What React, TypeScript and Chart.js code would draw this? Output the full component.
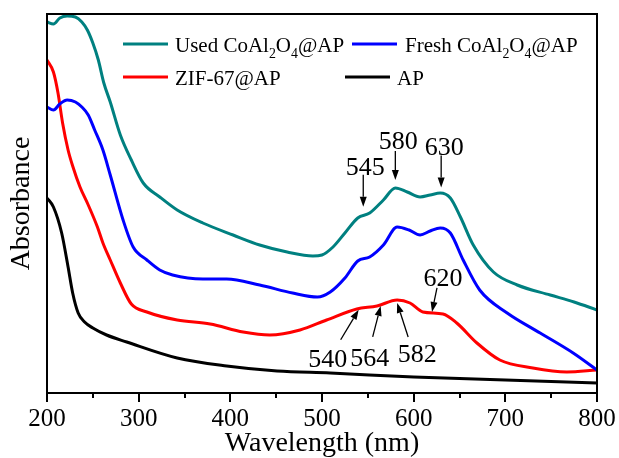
import React, { useEffect, useRef } from 'react';
import { Chart, registerables } from 'chart.js';

Chart.register(...registerables);

// ---------- data ----------
const usedWl = [200, 207, 214, 222, 231, 238, 244, 250, 256, 262, 269, 280, 292, 305, 323, 342, 370, 403, 432, 462, 490, 500, 512, 525, 539, 552, 567, 580, 593, 607, 618, 629, 640, 651, 665, 687, 713, 749, 775, 800];
const usedAbs = [3.71, 3.69, 3.75, 3.77, 3.76, 3.71, 3.63, 3.5, 3.33, 3.1, 2.91, 2.58, 2.33, 2.1, 1.96, 1.83, 1.7, 1.58, 1.48, 1.41, 1.37, 1.38, 1.46, 1.6, 1.75, 1.8, 1.93, 2.05, 2.01, 1.96, 1.98, 2.0, 1.95, 1.76, 1.48, 1.21, 1.08, 0.98, 0.91, 0.83];

const freshWl = [200, 207, 214, 222, 231, 238, 245, 252, 261, 269, 283, 294, 309, 323, 337, 370, 396, 432, 468, 495, 509, 525, 539, 552, 567, 582, 595, 607, 618, 629, 640, 654, 672, 702, 738, 774, 800];
const freshAbs = [2.86, 2.83, 2.89, 2.93, 2.91, 2.86, 2.78, 2.63, 2.43, 2.18, 1.73, 1.46, 1.33, 1.23, 1.18, 1.14, 1.14, 1.08, 1.0, 0.96, 1.01, 1.15, 1.32, 1.36, 1.48, 1.66, 1.63, 1.58, 1.62, 1.65, 1.6, 1.33, 1.03, 0.8, 0.6, 0.4, 0.23];

const zifWl = [200, 207, 212, 217, 223, 228, 236, 245, 255, 261, 269, 280, 292, 309, 342, 378, 414, 443, 476, 505, 538, 560, 582, 596, 610, 632, 647, 669, 694, 730, 767, 800];
const zifAbs = [3.33, 3.21, 3.0, 2.7, 2.43, 2.27, 2.06, 1.88, 1.66, 1.5, 1.33, 1.1, 0.89, 0.81, 0.73, 0.69, 0.61, 0.58, 0.63, 0.73, 0.84, 0.87, 0.93, 0.9, 0.81, 0.79, 0.7, 0.5, 0.33, 0.25, 0.21, 0.23];

const apWl = [200, 207, 216, 223, 228, 234, 241, 250, 265, 287, 342, 396, 451, 509, 600, 700, 800];
const apAbs = [1.95, 1.86, 1.6, 1.26, 1.0, 0.8, 0.71, 0.65, 0.58, 0.51, 0.35, 0.27, 0.22, 0.2, 0.16, 0.13, 0.1];

const seriesLabels = ['Used CoAl2O4@AP', 'Fresh CoAl2O4@AP', 'ZIF-67@AP', 'AP'];
const seriesColors = ['#008080', '#0000ff', '#ff0000', '#000000'];

const xMajorTicks = [200, 300, 400, 500, 600, 700, 800];
const xMinorTicks = [250, 350, 450, 550, 650, 750];

const xTitle = 'Wavelength (nm)';
const yTitle = 'Absorbance';

// peak annotations: wavelength, label, series index
const annoWl = [545, 580, 630, 540, 564, 582, 620];
const annoText = ['545', '580', '630', '540', '564', '582', '620'];
const annoSeries = [0, 0, 0, 2, 2, 2, 2];

// ---------- layout (drawing only) ----------
const ANNOT_LAYOUT = [
  { tipDy: -9, tail: [0, -32], lab: [2, 0] },
  { tipDy: -8, tail: [0, -29], lab: [3, -2] },
  { tipDy: -6, tail: [0, -32], lab: [3, 0] },
  { tipDy: 1, tail: [-18, 30], lab: [-13, 27] },
  { tipDy: 1, tail: [-8, 31], lab: [-3, 29] },
  { tipDy: 3, tail: [11, 34], lab: [9, 25] },
  { tipDy: -1, tail: [5, -24], lab: [6, -2] },
];
const LEGEND_POS = [
  [123, 44, 175],
  [352, 44, 405],
  [123, 77, 175],
  [345, 77, 397],
];

const FONT = '"Liberation Serif", "Times New Roman", serif';

const seriesWl = [usedWl, freshWl, zifWl, apWl];
const seriesAbs = [usedAbs, freshAbs, zifAbs, apAbs];

function valueAt(si: number, wl: number): number {
  const xs = seriesWl[si];
  const ys = seriesAbs[si];
  for (let i = 0; i < xs.length - 1; i++) {
    if (wl >= xs[i] && wl <= xs[i + 1]) {
      const t = (wl - xs[i]) / (xs[i + 1] - xs[i]);
      return ys[i] + t * (ys[i + 1] - ys[i]);
    }
  }
  return ys[ys.length - 1];
}

function drawRich(ctx: CanvasRenderingContext2D, text: string, x: number, y: number, size: number) {
  let cx = x;
  let prevLetterOrSub = false;
  const segs: { t: string; sub: boolean }[] = [];
  for (const ch of text) {
    const isDigit = /[0-9]/.test(ch);
    const sub = isDigit && prevLetterOrSub;
    if (segs.length && segs[segs.length - 1].sub === sub) segs[segs.length - 1].t += ch;
    else segs.push({ t: ch, sub });
    prevLetterOrSub = /[A-Za-z]/.test(ch) || sub;
  }
  ctx.textAlign = 'left';
  ctx.textBaseline = 'alphabetic';
  for (const s of segs) {
    const sz = s.sub ? size * 0.66 : size;
    ctx.font = `${sz}px ${FONT}`;
    ctx.fillText(s.t, cx, s.sub ? y + size * 0.3 : y);
    cx += ctx.measureText(s.t).width;
  }
}

function arrow(ctx: CanvasRenderingContext2D, x0: number, y0: number, x1: number, y1: number) {
  const ang = Math.atan2(y1 - y0, x1 - x0);
  const hl = 10;
  const hw = 3.5;
  const bx = x1 - hl * Math.cos(ang);
  const by = y1 - hl * Math.sin(ang);
  ctx.beginPath();
  ctx.moveTo(x0, y0);
  ctx.lineTo(bx, by);
  ctx.stroke();
  ctx.beginPath();
  ctx.moveTo(x1, y1);
  ctx.lineTo(bx + hw * Math.sin(ang), by - hw * Math.cos(ang));
  ctx.lineTo(bx - hw * Math.sin(ang), by + hw * Math.cos(ang));
  ctx.closePath();
  ctx.fill();
}

const decorPlugin = {
  id: 'decor',
  afterDraw(chart: any) {
    const { ctx, chartArea: ca, scales } = chart;
    const xs = scales.x;
    const ys = scales.y;
    ctx.save();
    ctx.strokeStyle = '#000';
    ctx.fillStyle = '#000';
    ctx.lineWidth = 2;
    ctx.strokeRect(ca.left, ca.top, ca.right - ca.left, ca.bottom - ca.top);
    for (const v of xMajorTicks) {
      const px = Math.round(xs.getPixelForValue(v));
      ctx.beginPath();
      ctx.moveTo(px, ca.bottom);
      ctx.lineTo(px, ca.bottom + 9);
      ctx.stroke();
    }
    for (const v of xMinorTicks) {
      const px = Math.round(xs.getPixelForValue(v));
      ctx.beginPath();
      ctx.moveTo(px, ca.bottom);
      ctx.lineTo(px, ca.bottom + 5);
      ctx.stroke();
    }
    for (let i = 0; i < seriesLabels.length; i++) {
      const [lx, ly, tx] = LEGEND_POS[i];
      ctx.strokeStyle = seriesColors[i];
      ctx.lineWidth = 3;
      ctx.beginPath();
      ctx.moveTo(lx, ly);
      ctx.lineTo(lx + 45, ly);
      ctx.stroke();
      ctx.fillStyle = '#000';
      drawRich(ctx, seriesLabels[i], tx, ly + 8, 21);
    }
    ctx.strokeStyle = '#000';
    ctx.fillStyle = '#000';
    ctx.lineWidth = 1.3;
    for (let i = 0; i < annoWl.length; i++) {
      const L = ANNOT_LAYOUT[i];
      const tipX = xs.getPixelForValue(annoWl[i]);
      const tipY = ys.getPixelForValue(valueAt(annoSeries[i], annoWl[i])) + L.tipDy;
      const tailX = tipX + L.tail[0];
      const tailY = tipY + L.tail[1];
      arrow(ctx, tailX, tailY, tipX, tipY);
      ctx.font = `26px ${FONT}`;
      ctx.textAlign = 'center';
      ctx.textBaseline = 'alphabetic';
      ctx.fillText(annoText[i], tailX + L.lab[0], tailY + L.lab[1]);
    }
    ctx.restore();
  },
};

export default function App() {
  const ref = useRef<HTMLCanvasElement | null>(null);
  useEffect(() => {
    document.body.style.margin = '0';
    const canvas = ref.current!;
    const datasets = seriesLabels.map((label, i) => ({
      label,
      data: seriesWl[i].map((w, j) => ({ x: w, y: seriesAbs[i][j] })),
      borderColor: seriesColors[i],
      backgroundColor: seriesColors[i],
      borderWidth: 3,
      pointRadius: 0,
      cubicInterpolationMode: 'monotone' as const,
      fill: false,
    }));
    const chart = new Chart(canvas, {
      type: 'line',
      data: { datasets },
      plugins: [decorPlugin],
      options: {
        animation: false,
        responsive: false,
        devicePixelRatio: 1,
        layout: { padding: { top: 14, right: 22, left: 0, bottom: 0 } },
        plugins: { legend: { display: false }, tooltip: { enabled: false } },
        scales: {
          x: {
            type: 'linear',
            min: 200,
            max: 800,
            afterBuildTicks: (s: any) => {
              s.ticks = xMajorTicks.map((v) => ({ value: v }));
            },
            ticks: {
              font: { family: FONT, size: 25 },
              color: '#000',
              padding: 11,
              maxRotation: 0,
              autoSkip: false,
            },
            grid: { display: false, drawTicks: false },
            border: { display: true, color: '#000', width: 2 },
            title: {
              display: true,
              text: xTitle,
              font: { family: FONT, size: 28 },
              color: '#000',
              padding: { top: 0, bottom: -2 },
            },
            afterFit: (s: any) => {
              s.height = 65;
              s.paddingLeft = 0;
              s.paddingRight = 0;
            },
          },
          y: {
            type: 'linear',
            min: 0,
            max: 3.79,
            ticks: { display: false },
            grid: { display: false, drawTicks: false },
            border: { display: true, color: '#000', width: 2 },
            title: {
              display: true,
              text: yTitle,
              font: { family: FONT, size: 28 },
              color: '#000',
              padding: { top: 5, bottom: 0 },
            },
            afterFit: (s: any) => {
              s.width = 47;
            },
          },
        },
      },
    });
    return () => chart.destroy();
  }, []);
  return (
    <div style={{ position: 'fixed', left: 0, top: 0, width: 619, height: 458, background: '#fff' }}>
      <canvas ref={ref} width={619} height={458} />
    </div>
  );
}
